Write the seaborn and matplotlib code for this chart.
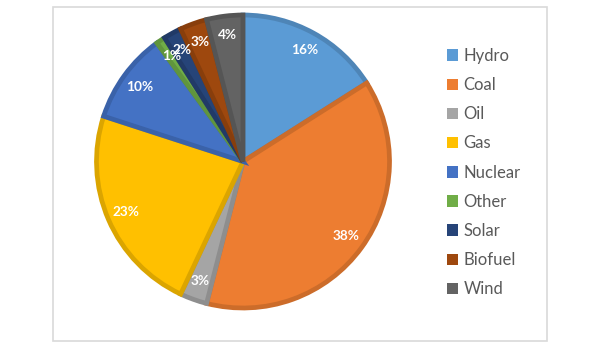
import matplotlib
matplotlib.use("Agg")
import matplotlib.pyplot as plt
from matplotlib.patches import Patch, Rectangle
import seaborn as sns
import numpy as np

# Data
sources = ["Hydro", "Coal", "Oil", "Gas", "Nuclear", "Other", "Solar", "Biofuel", "Wind"]
shares = [16, 38, 3, 23, 10, 1, 2, 3, 4]
colors_hex = ["#5B9BD5", "#ED7D31", "#A5A5A5", "#FFC000", "#4472C4",
              "#70AD47", "#264478", "#9E480E", "#636363"]

sns.set_style("white")
plt.rcParams['font.family'] = ['Lato', 'DejaVu Sans']

palette = sns.color_palette(colors_hex)
# slightly darker outline like the Excel style border
edge_colors = [tuple(np.array(c) * 0.86) for c in palette]

W, H = 594, 349
fig = plt.figure(figsize=(W / 100, H / 100), dpi=100)

# pie axes centred at (243, 161) px from top-left
cx, cy, half = 243, 161.5, 160
ax = fig.add_axes([(cx - half) / W, (H - cy - half) / H, 2 * half / W, 2 * half / H])
r_path = 146.5 / half

wedges, texts, autotexts = ax.pie(
    shares, colors=palette, startangle=90, counterclock=False,
    radius=r_path, autopct=lambda p: f"{p:.0f}%", pctdistance=0.87,
    wedgeprops=dict(linewidth=3.4, joinstyle='miter'),
    textprops=dict(color="white", fontsize=9.8, fontweight="bold"))
for w, ec in zip(wedges, edge_colors):
    w.set_edgecolor(ec)
ax.set_xlim(-1, 1)
ax.set_ylim(-1, 1)
ax.set_aspect('equal')
ax.axis('off')

# legend on the right
handles = [Patch(facecolor=c, edgecolor='none') for c in palette]
fig.legend(handles, sources, loc='upper left',
           bbox_to_anchor=(447 / W, (H - 48) / H), frameon=False,
           fontsize=12, labelcolor='#595959', handlelength=0.68, handleheight=0.68,
           handletextpad=0.3, labelspacing=0.79, borderpad=0, borderaxespad=0)

# light chart-area frame
fig.patches.append(Rectangle((53 / W, (H - 341) / H), (547 - 53) / W, (341 - 7) / H,
                             transform=fig.transFigure, fill=False,
                             edgecolor='#D9D9D9', linewidth=1.2))

fig.savefig("out.png", dpi=100)
